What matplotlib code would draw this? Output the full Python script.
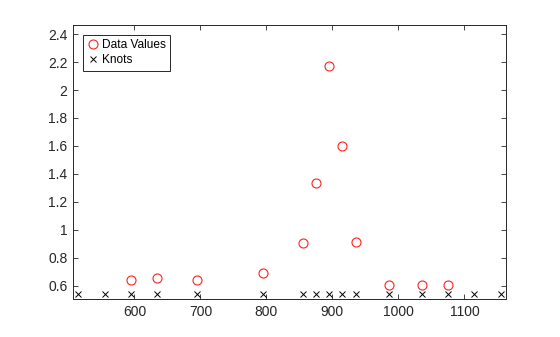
import matplotlib
matplotlib.use('Agg')
import matplotlib.pyplot as plt
from matplotlib.ticker import FuncFormatter

# titanium subset: data sites and values
x_data = [595, 635, 695, 795, 855, 875, 895, 915, 935, 985, 1035, 1075]
y_data = [0.644, 0.652, 0.644, 0.694, 0.907, 1.336, 2.169, 1.598, 0.916, 0.607, 0.603, 0.608]

# knot sequence, drawn along the bottom
knots = [515, 555, 595, 635, 695, 795, 855, 875, 895, 915, 935, 985, 1035, 1075, 1115, 1155]
knot_level = 0.538

plt.rcParams['font.family'] = ['Liberation Sans', 'DejaVu Sans']

fig = plt.figure(figsize=(5.6, 3.37), dpi=100)
ax = fig.add_axes([73 / 560, 1 - 299 / 337, 433 / 560, 274 / 337])

ax.plot(x_data, y_data, 'o', color='#ff2020', markerfacecolor='none',
        markersize=6.5, markeredgewidth=0.8, label='Data Values')
ax.plot(knots, [knot_level] * len(knots), 'x', color='black',
        markersize=5, markeredgewidth=0.7, label='Knots')

ax.set_xlim(507, 1163)
ax.set_ylim(0.505, 2.465)
ax.set_xticks([600, 700, 800, 900, 1000, 1100])
ax.set_yticks([0.6, 0.8, 1.0, 1.2, 1.4, 1.6, 1.8, 2.0, 2.2, 2.4])
ax.yaxis.set_major_formatter(FuncFormatter(lambda v, p: f'{v:g}'))

ax.tick_params(direction='in', length=3.5, width=0.6, top=True, right=True,
               labelsize=10, colors='#262626', pad=4)
for s in ax.spines.values():
    s.set_linewidth(0.7)
    s.set_color('#262626')

leg = ax.legend(loc='upper left', fontsize=8.6, frameon=True, fancybox=False,
                edgecolor='#262626', framealpha=1, borderpad=0.35,
                handletextpad=0.2, handlelength=1.0, labelspacing=0.25,
                borderaxespad=0.85)
leg.get_frame().set_linewidth(0.7)

fig.savefig('out.png', dpi=100)
